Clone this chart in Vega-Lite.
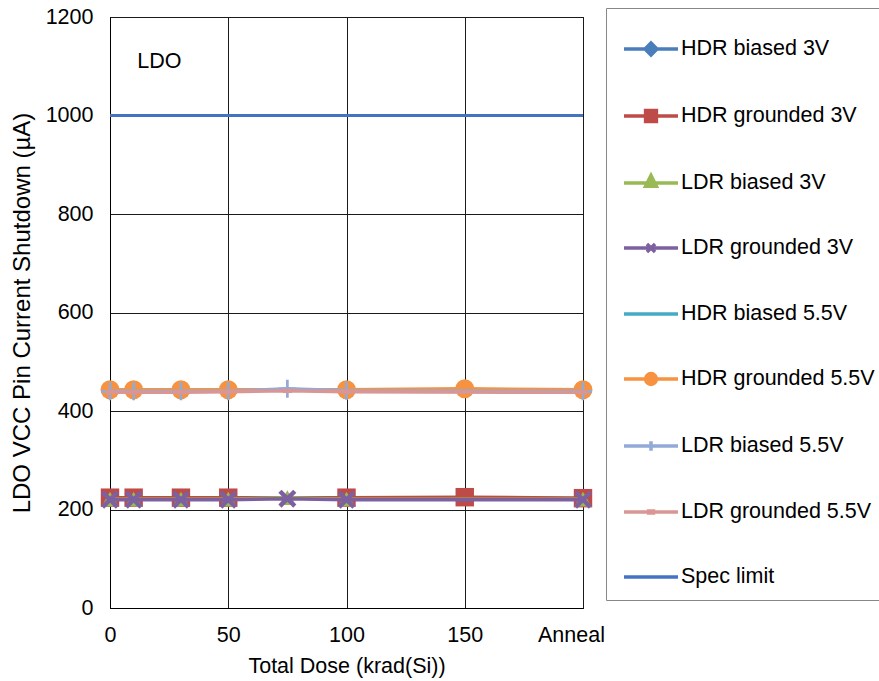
{
  "$schema": "https://vega.github.io/schema/vega-lite/v6.json",
  "width": 473,
  "height": 591,
  "autosize": {"type": "none"},
  "padding": {"left": 110, "top": 17, "right": 296, "bottom": 73},
  "background": "white",
  "config": {
    "font": "Liberation Sans",
    "view": {"stroke": "#000", "strokeWidth": 1},
    "axis": {
      "labelFont": "Liberation Sans", "labelFontSize": 21.5, "labelColor": "#000",
      "titleFont": "Liberation Sans", "titleFontSize": 21.5, "titleFontWeight": "normal", "titleColor": "#000",
      "grid": true, "gridColor": "#1a1a1a", "gridWidth": 1, "gridOpacity": 1,
      "ticks": false, "tickSize": 0, "domainColor": "#000", "domainWidth": 1
    }
  },
  "data": {"values": [
    {"series": "HDR biased 3V", "dose": 0, "current": 223},
    {"series": "HDR biased 3V", "dose": 10, "current": 223},
    {"series": "HDR biased 3V", "dose": 30, "current": 223},
    {"series": "HDR biased 3V", "dose": 50, "current": 223},
    {"series": "HDR biased 3V", "dose": 100, "current": 223},
    {"series": "HDR biased 3V", "dose": 150, "current": 223},
    {"series": "HDR biased 3V", "dose": 200, "current": 223},
    {"series": "HDR grounded 3V", "dose": 0, "current": 224},
    {"series": "HDR grounded 3V", "dose": 10, "current": 224},
    {"series": "HDR grounded 3V", "dose": 30, "current": 224},
    {"series": "HDR grounded 3V", "dose": 50, "current": 224},
    {"series": "HDR grounded 3V", "dose": 100, "current": 224},
    {"series": "HDR grounded 3V", "dose": 150, "current": 225},
    {"series": "HDR grounded 3V", "dose": 200, "current": 223},
    {"series": "LDR biased 3V", "dose": 0, "current": 221},
    {"series": "LDR biased 3V", "dose": 10, "current": 221},
    {"series": "LDR biased 3V", "dose": 30, "current": 221},
    {"series": "LDR biased 3V", "dose": 50, "current": 221},
    {"series": "LDR biased 3V", "dose": 75, "current": 224},
    {"series": "LDR biased 3V", "dose": 100, "current": 221},
    {"series": "LDR biased 3V", "dose": 200, "current": 221},
    {"series": "LDR grounded 3V", "dose": 0, "current": 220},
    {"series": "LDR grounded 3V", "dose": 10, "current": 220},
    {"series": "LDR grounded 3V", "dose": 30, "current": 220},
    {"series": "LDR grounded 3V", "dose": 50, "current": 220},
    {"series": "LDR grounded 3V", "dose": 75, "current": 222},
    {"series": "LDR grounded 3V", "dose": 100, "current": 220},
    {"series": "LDR grounded 3V", "dose": 200, "current": 220},
    {"series": "HDR biased 5.5V", "dose": 0, "current": 442},
    {"series": "HDR biased 5.5V", "dose": 10, "current": 442},
    {"series": "HDR biased 5.5V", "dose": 30, "current": 442},
    {"series": "HDR biased 5.5V", "dose": 50, "current": 442},
    {"series": "HDR biased 5.5V", "dose": 100, "current": 442},
    {"series": "HDR biased 5.5V", "dose": 150, "current": 443},
    {"series": "HDR biased 5.5V", "dose": 200, "current": 441},
    {"series": "HDR grounded 5.5V", "dose": 0, "current": 443},
    {"series": "HDR grounded 5.5V", "dose": 10, "current": 443},
    {"series": "HDR grounded 5.5V", "dose": 30, "current": 443},
    {"series": "HDR grounded 5.5V", "dose": 50, "current": 443},
    {"series": "HDR grounded 5.5V", "dose": 100, "current": 443},
    {"series": "HDR grounded 5.5V", "dose": 150, "current": 445},
    {"series": "HDR grounded 5.5V", "dose": 200, "current": 443},
    {"series": "LDR biased 5.5V", "dose": 0, "current": 440},
    {"series": "LDR biased 5.5V", "dose": 10, "current": 440},
    {"series": "LDR biased 5.5V", "dose": 30, "current": 440},
    {"series": "LDR biased 5.5V", "dose": 50, "current": 440},
    {"series": "LDR biased 5.5V", "dose": 75, "current": 445},
    {"series": "LDR biased 5.5V", "dose": 100, "current": 441},
    {"series": "LDR biased 5.5V", "dose": 200, "current": 440},
    {"series": "LDR grounded 5.5V", "dose": 0, "current": 438},
    {"series": "LDR grounded 5.5V", "dose": 10, "current": 438},
    {"series": "LDR grounded 5.5V", "dose": 30, "current": 438},
    {"series": "LDR grounded 5.5V", "dose": 50, "current": 439},
    {"series": "LDR grounded 5.5V", "dose": 75, "current": 441},
    {"series": "LDR grounded 5.5V", "dose": 100, "current": 439},
    {"series": "LDR grounded 5.5V", "dose": 200, "current": 438},
    {"series": "Spec limit", "dose": 0, "current": 1000},
    {"series": "Spec limit", "dose": 200, "current": 1000}
  ]},
  "encoding": {
    "x": {"field": "dose", "type": "quantitative",
      "scale": {"domain": [0, 200], "nice": false, "zero": false},
      "axis": {"title": "Total Dose (krad(Si))", "values": [0, 50, 100, 150, 200],
        "labelExpr": "datum.value == 200 ? 'Anneal' : datum.label",
        "labelPadding": 16, "titlePadding": 10, "labelFlush": false,
        "labelOffset": {"condition": {"test": "datum.value == 200", "value": -12}, "value": 0}}},
    "y": {"field": "current", "type": "quantitative",
      "scale": {"domain": [0, 1200], "nice": false},
      "axis": {"title": "LDO VCC Pin Current Shutdown (µA)", "values": [0, 200, 400, 600, 800, 1000, 1200],
        "format": "d", "titleFontSize": 24,
        "labelPadding": 17, "titlePadding": 11, "labelFlush": false}}
  },
  "layer": [
    {"transform": [{"filter": "datum.series === 'Spec limit'"}],
     "mark": {"type": "line", "color": "#4472C4", "strokeWidth": 3}},
    {"transform": [{"filter": "datum.series === 'HDR biased 3V'"}],
     "mark": {"type": "line", "color": "#4A7EBB", "strokeWidth": 3.5,
       "point": {"shape": "diamond", "size": 196, "filled": true, "color": "#4A7EBB", "opacity": 1}}},
    {"transform": [{"filter": "datum.series === 'HDR grounded 3V'"}],
     "mark": {"type": "line", "color": "#BE4B48", "strokeWidth": 3.5,
       "point": {"shape": "square", "size": 340, "filled": true, "color": "#BE4B48", "opacity": 1}}},
    {"transform": [{"filter": "datum.series === 'LDR biased 3V'"}],
     "mark": {"type": "line", "color": "#98B954", "strokeWidth": 3.5,
       "point": {"shape": "triangle-up", "size": 289, "filled": true, "color": "#98B954", "opacity": 1}}},
    {"transform": [{"filter": "datum.series === 'LDR grounded 3V'"}],
     "mark": {"type": "line", "color": "#7D60A0", "strokeWidth": 3.5,
       "point": {"shape": "M-1,-0.65L-0.65,-1L0,-0.35L0.65,-1L1,-0.65L0.35,0L1,0.65L0.65,1L0,0.35L-0.65,1L-1,0.65L-0.35,0Z", "size": 324, "filled": true, "color": "#7D60A0", "opacity": 1}}},
    {"transform": [{"filter": "datum.series === 'HDR biased 5.5V'"}],
     "mark": {"type": "line", "color": "#46AAC5", "strokeWidth": 3.5}},
    {"transform": [{"filter": "datum.series === 'HDR grounded 5.5V'"}],
     "mark": {"type": "line", "color": "#F69240", "strokeWidth": 3.5,
       "point": {"shape": "circle", "size": 361, "filled": true, "color": "#F69240", "opacity": 1}}},
    {"transform": [{"filter": "datum.series === 'LDR biased 5.5V'"}],
     "mark": {"type": "line", "color": "#92ABD6", "strokeWidth": 3.5,
       "point": {"shape": "M-1,-0.15H-0.15V-1H0.15V-0.15H1V0.15H0.15V1H-0.15V0.15H-1Z", "size": 324, "filled": true, "color": "#92ABD6", "opacity": 1}}},
    {"transform": [{"filter": "datum.series === 'LDR grounded 5.5V'"}],
     "mark": {"type": "line", "color": "#D99694", "strokeWidth": 3.5,
       "point": {"shape": "M-1,-0.5H1V0.5H-1Z", "size": 81, "filled": true, "color": "#D99694", "opacity": 1}}},
    {"data": {"values": [{"label": "LDO", "dose": 11.5, "current": 1108}]},
     "mark": {"type": "text", "align": "left", "baseline": "middle", "fontSize": 21.5, "font": "Liberation Sans", "color": "#000"},
     "encoding": {"text": {"field": "label"}}},
    {"mark": {"type": "point", "filled": true, "opacity": 0},
     "encoding": {
       "fill": {"field": "series", "type": "nominal",
         "scale": {"domain": ["HDR biased 3V", "HDR grounded 3V", "LDR biased 3V", "LDR grounded 3V", "HDR biased 5.5V", "HDR grounded 5.5V", "LDR biased 5.5V", "LDR grounded 5.5V", "Spec limit"],
                   "range": ["#4A7EBB", "#BE4B48", "#98B954", "#7D60A0", "#46AAC5", "#F69240", "#92ABD6", "#D99694", "#4472C4"]},
         "legend": {"title": null, "orient": "none", "legendX": 496, "legendY": -9, "padding": 12,
           "strokeColor": "#888", "symbolSize": 2916, "symbolStrokeWidth": 3.5, "symbolOpacity": 1,
           "symbolOffset": 4, "labelOffset": 1, "rowPadding": 25, "labelFontSize": 21.5, "labelFont": "Liberation Sans", "labelColor": "#000", "labelLimit": 300}},
       "stroke": {"field": "series", "type": "nominal",
         "scale": {"domain": ["HDR biased 3V", "HDR grounded 3V", "LDR biased 3V", "LDR grounded 3V", "HDR biased 5.5V", "HDR grounded 5.5V", "LDR biased 5.5V", "LDR grounded 5.5V", "Spec limit"],
                   "range": ["#4A7EBB", "#BE4B48", "#98B954", "#7D60A0", "#46AAC5", "#F69240", "#92ABD6", "#D99694", "#4472C4"]},
         "legend": {"title": null, "orient": "none", "legendX": 496, "legendY": -9, "padding": 12,
           "strokeColor": "#888", "symbolSize": 2916, "symbolStrokeWidth": 3.5, "symbolOpacity": 1,
           "symbolOffset": 4, "labelOffset": 1, "rowPadding": 25, "labelFontSize": 21.5, "labelFont": "Liberation Sans", "labelColor": "#000", "labelLimit": 300}},
       "shape": {"field": "series", "type": "nominal",
         "scale": {"domain": ["HDR biased 3V", "HDR grounded 3V", "LDR biased 3V", "LDR grounded 3V", "HDR biased 5.5V", "HDR grounded 5.5V", "LDR biased 5.5V", "LDR grounded 5.5V", "Spec limit"],
                   "range": [
                     "M-1,0H1M0,-0.22L0.22,0L0,0.22L-0.22,0Z",
                     "M-1,0H1M-0.2,-0.2H0.2V0.2H-0.2Z",
                     "M-1,0H1M0,-0.28L0.2,0.12H-0.2Z",
                     "M-1,0H1M-0.15,-0.15L0.15,0.15M0.15,-0.15L-0.15,0.15",
                     "M-1,0H1",
                     "M-1,0H1M-0.2,0A0.2,0.2 0 1,0 0.2,0A0.2,0.2 0 1,0 -0.2,0Z",
                     "M-1,0H1M0,-0.18V0.18",
                     "M-1,0H1M-0.09,-0.04H0.09V0.04H-0.09Z",
                     "M-1,0H1"
                   ]},
         "legend": {"title": null, "orient": "none", "legendX": 496, "legendY": -9, "padding": 12,
           "strokeColor": "#888", "symbolSize": 2916, "symbolStrokeWidth": 3.5, "symbolOpacity": 1,
           "symbolOffset": 4, "labelOffset": 1, "rowPadding": 25, "labelFontSize": 21.5, "labelFont": "Liberation Sans", "labelColor": "#000", "labelLimit": 300}}
     }}
  ]
}
